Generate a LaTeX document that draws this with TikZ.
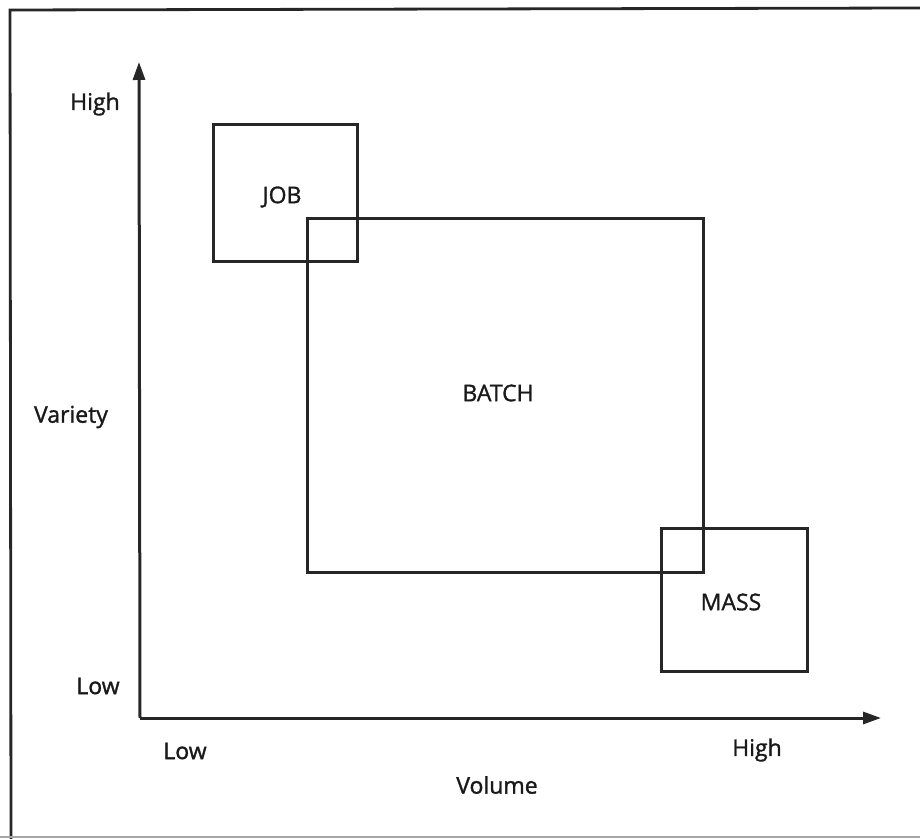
\documentclass[tikz,border=0pt]{standalone}
\usepackage{fontspec}
\setmainfont{Open Sans}
\newfontfamily\lblfont{Open Sans}[FakeBold=1.3]
\usetikzlibrary{arrows.meta}
\begin{document}
\begin{tikzpicture}[x=0.5pt,y=-0.5pt,
  frameline/.style={line width=1.4pt,black!85},
  boxnode/.style={draw,line width=1.5pt,black!85,inner sep=0pt},
  axisline/.style={line width=1.5pt,black!85,-{Triangle[length=9pt,width=6pt]}},
  lbl/.style={font=\lblfont\fontsize{11.5}{13}\selectfont,inner sep=0pt,text=black!90}]
\useasboundingbox (0,0) rectangle (920,839);
% frame
\coordinate (ftl) at (10,10);
\coordinate (ftr) at (920,8);
\coordinate (fbl) at (11,839);
\coordinate (bbl) at (0,837);
\coordinate (bbr) at (920,837);
\draw[frameline] (ftr) -- (ftl) -- (fbl);
\draw[line width=0.8pt,black!35] (bbl) -- (bbr);
% boxes
\node[boxnode,minimum width=72pt,minimum height=68.5pt] (jobbox) at (285,193.5) {};
\node[boxnode,minimum width=198pt,minimum height=176.5pt] (batchbox) at (505,395.5) {};
\node[boxnode,minimum width=73pt,minimum height=71.5pt] (massbox) at (734,599.5) {};
\node[lbl] (job) at (282,197) {JOB};
\node[lbl] (batch) at (498,393) {BATCH};
\node[lbl] (mass) at (731,602) {MASS};
% axes
\coordinate (origin) at (140,718);
\coordinate (ytip) at (139,62);
\coordinate (xtip) at (881,718);
\draw[axisline] (origin) -- (ytip);
\draw[axisline] (origin) -- (xtip);
% axis labels
\node[lbl] (yhigh) at (95,104) {High};
\node[lbl] (variety) at (71,417) {Variety};
\node[lbl] (ylow) at (98,686) {Low};
\node[lbl] (xlow) at (185,751) {Low};
\node[lbl] (xhigh) at (757,750) {High};
\node[lbl] (volume) at (497,785) {Volume};
\end{tikzpicture}
\end{document}
